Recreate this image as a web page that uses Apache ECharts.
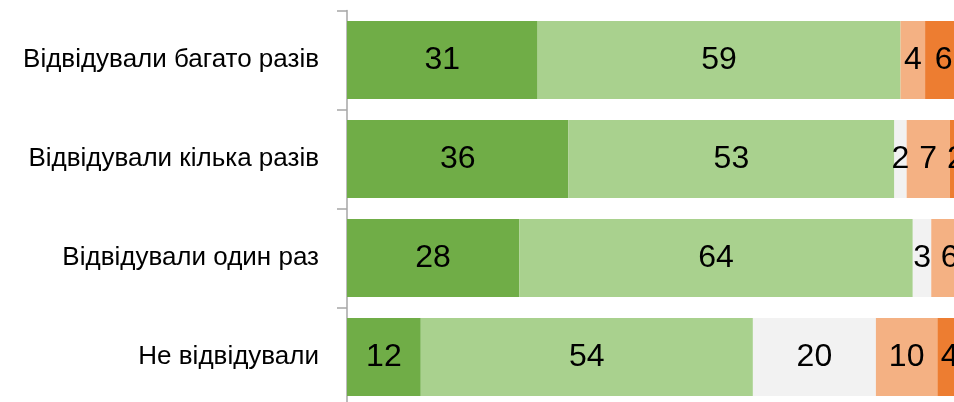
<!DOCTYPE html>
<html>
<head>
<meta charset="utf-8">
<script src="https://cdn.jsdelivr.net/npm/echarts@6/dist/echarts.min.js"></script>
<style>
  html, body { margin: 0; padding: 0; background: #fff; }
  #chart { width: 954px; height: 402px; }
</style>
</head>
<body>
<div id="chart"></div>
<script>
// categories, top to bottom
var categories = ['Відвідували багато разів', 'Відвідували кілька разів', 'Відвідували один раз', 'Не відвідували'];
// segments, left to right
var darkGreen = [31, 36, 28, 12];
var lightGreen = [59, 53, 64, 54];
var grey = [0, 2, 3, 20];
var lightOrange = [4, 7, 6, 10];
var orange = [6, 2, 0, 4];

var colors = ['#70AD47', '#A9D18E', '#F2F2F2', '#F4B183', '#ED7D31'];
var font = '"Liberation Sans", Arial, sans-serif';

// 100% would sit at x = 962, a little past the right edge
var axisMax = 607 / 6.15;

function seg(name, data, color) {
    return {
        name: name,
        type: 'bar',
        stack: 'total',
        barCategoryGap: '21%',
        clip: false,
        data: data,
        itemStyle: { color: color },
        label: {
            show: true,
            position: 'inside',
            color: '#000',
            fontFamily: font,
            fontSize: 32,
            formatter: function (p) { return p.value ? p.value : ''; }
        },
        silent: true
    };
}

var option = {
    animation: false,
    grid: { left: 347, top: 10.5, right: 0, bottom: -4.5, outerBoundsMode: 'none' },
    xAxis: {
        type: 'value',
        min: 0,
        max: axisMax,
        show: false
    },
    yAxis: {
        type: 'category',
        inverse: true,
        data: categories,
        axisLine: { show: true, lineStyle: { color: '#A6A6A6', width: 1.5 } },
        axisTick: { show: true, length: 10, lineStyle: { color: '#A6A6A6', width: 1.5 } },
        axisLabel: { color: '#000', fontFamily: font, fontSize: 26, margin: 28 }
    },
    series: [
        seg('s1', darkGreen, colors[0]),
        seg('s2', lightGreen, colors[1]),
        seg('s3', grey, colors[2]),
        seg('s4', lightOrange, colors[3]),
        seg('s5', orange, colors[4])
    ]
};

echarts.init(document.getElementById('chart')).setOption(option);
</script>
</body>
</html>
